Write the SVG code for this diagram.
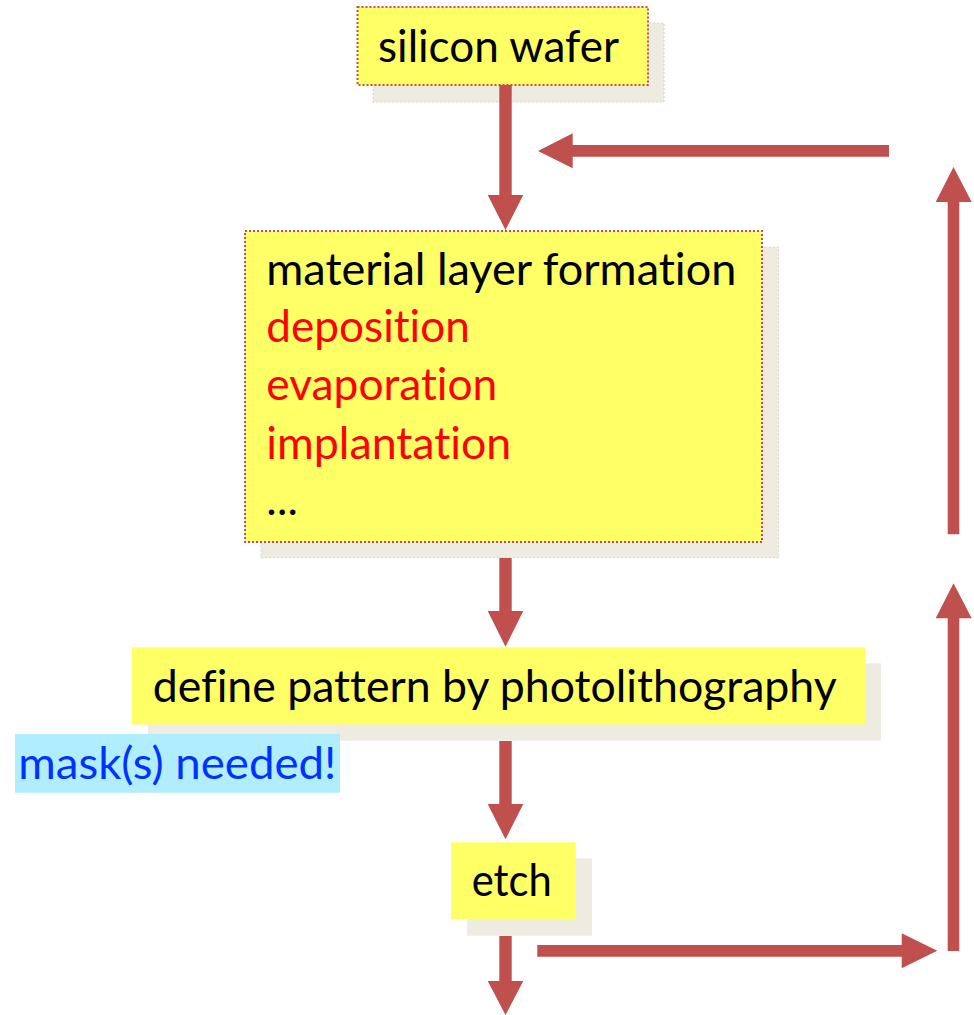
<svg xmlns="http://www.w3.org/2000/svg" width="974" height="1015" viewBox="0 0 974 1015">
  <style>
    .shadow { fill: #EEEBE1; }
    .shadow-dotted { stroke: #DDD9C8; stroke-width: 1.2; stroke-dasharray: 2 2; }
    .box { fill: #FFFF66; }
    .box-dotted { stroke: #C0504D; stroke-width: 2; stroke-dasharray: 2 2; }
    .note { fill: #B0EEFF; }
    .label { font-family: Lato, "Liberation Sans", sans-serif; font-size: 44px; fill: #000000;
             font-variant-ligatures: none; font-feature-settings: "liga" 0, "clig" 0; }
    .red { fill: #FF0000; }
    .blue { fill: #0033FF; }
    .arrow { fill: #C0504D; }
  </style>

  <!-- silicon wafer -->
  <g id="node-wafer">
    <rect class="shadow shadow-dotted" x="373" y="23" width="291" height="79"/>
    <rect class="box box-dotted" x="357.5" y="7" width="290.5" height="78"/>
    <text class="label" x="378" y="62" textLength="241" lengthAdjust="spacingAndGlyphs">silicon wafer</text>
  </g>

  <!-- material layer formation -->
  <g id="node-layer">
    <rect class="shadow shadow-dotted" x="261" y="247" width="517.6" height="310.7"/>
    <rect class="box box-dotted" x="245" y="231" width="517" height="311"/>
    <text class="label" x="266.3" y="285" textLength="470" lengthAdjust="spacingAndGlyphs">material layer formation</text>
    <text class="label red" x="266.3" y="341.7" textLength="203.5" lengthAdjust="spacingAndGlyphs">deposition</text>
    <text class="label red" x="266.3" y="400" textLength="231" lengthAdjust="spacingAndGlyphs">evaporation</text>
    <text class="label red" x="266.3" y="459.3" textLength="245" lengthAdjust="spacingAndGlyphs">implantation</text>
    <text class="label" x="266.3" y="515" textLength="31.6" lengthAdjust="spacing">...</text>
  </g>

  <!-- photolithography step -->
  <g id="node-litho">
    <rect class="shadow" x="148" y="663.3" width="733" height="77.4"/>
    <rect class="box" x="132" y="647.3" width="733" height="77.2"/>
    <text class="label" x="152.7" y="702.3" textLength="684" lengthAdjust="spacingAndGlyphs">define pattern by photolithography</text>
  </g>

  <!-- mask note -->
  <g id="node-mask">
    <rect class="note" x="15" y="734" width="325" height="58.7"/>
    <text class="label blue" x="18.3" y="779" textLength="318" lengthAdjust="spacingAndGlyphs">mask(s) needed!</text>
  </g>

  <!-- etch -->
  <g id="node-etch">
    <rect class="shadow" x="467" y="858.3" width="125" height="77.4"/>
    <rect class="box" x="451" y="842.3" width="124.7" height="77"/>
    <text class="label" x="471.7" y="896" textLength="80" lengthAdjust="spacingAndGlyphs">etch</text>
  </g>

  <!-- block arrows -->
  <g id="connectors" class="arrow">
    <!-- wafer to layer formation -->
    <polygon points="499.3,85 511.7,85 511.7,195 523.3,195 505.5,230 487.7,195 499.3,195"/>
    <!-- layer formation to photolithography -->
    <polygon points="499.3,558 511.7,558 511.7,611 523.3,611 505.5,646.7 487.7,611 499.3,611"/>
    <!-- photolithography to etch -->
    <polygon points="499.3,741 511.7,741 511.7,804 523.3,804 505.5,839.3 487.7,804 499.3,804"/>
    <!-- etch onward -->
    <polygon points="499.3,936 511.7,936 511.7,981 523.3,981 505.5,1015 487.7,981 499.3,981"/>
    <!-- loop back: right along the bottom -->
    <polygon points="537.3,945 901.7,945 901.7,933.3 937.3,950.8 901.7,968.3 901.7,956.7 537.3,956.7"/>
    <!-- loop back: up, lower segment -->
    <polygon points="947.7,951 947.7,618.3 935.7,618.3 953.5,583.3 971.7,618.3 959.3,618.3 959.3,951"/>
    <!-- loop back: up, upper segment -->
    <polygon points="947.7,534.3 947.7,202 935.7,202 953.5,167 971.7,202 959.3,202 959.3,534.3"/>
    <!-- loop back: left into the main flow -->
    <polygon points="889,145 572.7,145 572.7,133.3 538,151 572.7,168.3 572.7,156.7 889,156.7"/>
  </g>
</svg>
